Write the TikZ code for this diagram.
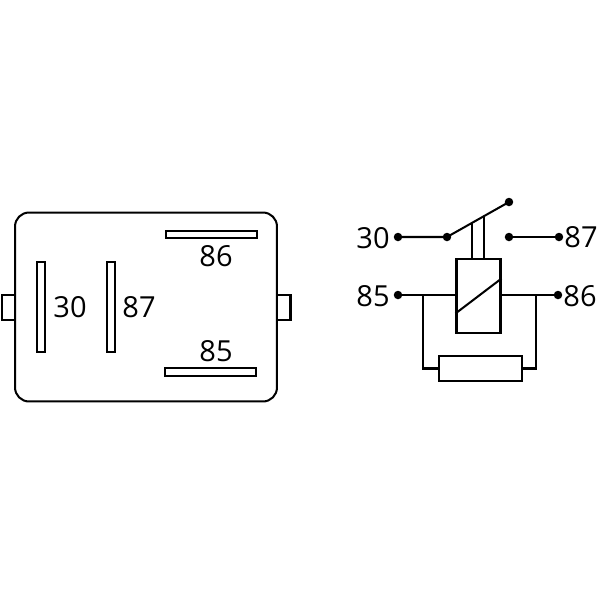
\documentclass[tikz,border=0pt]{standalone}
\usepackage{fontspec}
\setmainfont{Open Sans}
\usetikzlibrary{calc}

\begin{document}
\begin{tikzpicture} [x = 0.02cm, y = -0.02cm, line width = 1.15pt,
        blade/.style = {draw, inner sep = 0pt, minimum width = 0.16cm, minimum height = 1.8cm},
        slot/.style = {draw, inner sep = 0pt, minimum width = 1.82cm, minimum height = 0.15cm},
        tab/.style = {draw, inner sep = 0pt, minimum width = 0.28cm, minimum height = 0.5cm},
        term/.style = {circle, fill, inner sep = 0pt, outer sep = 0pt, minimum size = 0.17cm},
        num/.style = {inner sep = 0pt, font = \fontsize{16.5}{18}\selectfont}]

        \useasboundingbox (0, 0) rectangle (600, 600);

        % relay housing
        \node (tabl) [tab] at (9, 307.5) {}; \node (tabr) [tab] at (283.5, 307.5) {};
        \node (body) [draw, fill = white, inner sep = 0pt, rounded corners = 0.28cm,
        minimum width = 5.24cm, minimum height = 3.78cm] at (146, 307) {};

        \node (b30) [blade] at (41, 307) {}; \node (b87) [blade] at (111, 307) {};
        \node (b86) [slot] at (211.5, 234.5) {}; \node (b85) [slot] at (210.5, 372) {};

        \node (l30) [num] at (70, 307.5) {30}; \node (l87) [num] at (139, 307.5) {87};
        \node (l86) [num] at (216, 256.5) {86}; \node (l85) [num] at (216, 351) {85};

        % circuit
        \node (coil) [draw, inner sep = 0pt, minimum width = 0.88cm, minimum height = 1.48cm] at (478.5, 296) {};
        \node (res) [draw, inner sep = 0pt, minimum width = 1.66cm, minimum height = 0.5cm] at (480.5, 368.5) {};

        \node (t30) [term] at (398, 237) {}; \node (sw) [term] at (447, 237) {};
        \node (top) [term] at (509, 202) {}; \node (c87) [term] at (509, 237) {};
        \node (t87) [term] at (559, 237) {}; \node (t85) [term] at (398, 295) {};
        \node (t86) [term] at (558, 295) {};

        \coordinate (armA) at ($(sw)!0.403!(top)$); \coordinate (armB) at ($(sw)!0.597!(top)$);
        \coordinate (jl) at (423, 295); \coordinate (jr) at (536, 295);

        \node (n30) [num] at (373, 238) {30}; \node (n87) [num] at (581, 237) {87};
        \node (n85) [num] at (373, 296) {85}; \node (n86) [num] at (580, 296) {86};

        \draw (t30.center) -- (sw.center) -- (top.center);
        \draw (c87.center) -- (t87.center);
        \draw (armA) -- (armA |- coil.north);
        \draw (armB) -- (armB |- coil.north);
        \draw (t85.center) -- (coil.west |- t85);
        \draw (t86.center) -- (coil.east |- t86);
        \draw (jl) |- (res.west);
        \draw (jr) |- (res.east);
        \draw ($(coil.south west)!0.27!(coil.north west)$) -- ($(coil.south east)!0.73!(coil.north east)$);

    \end{tikzpicture}
\end{document}
